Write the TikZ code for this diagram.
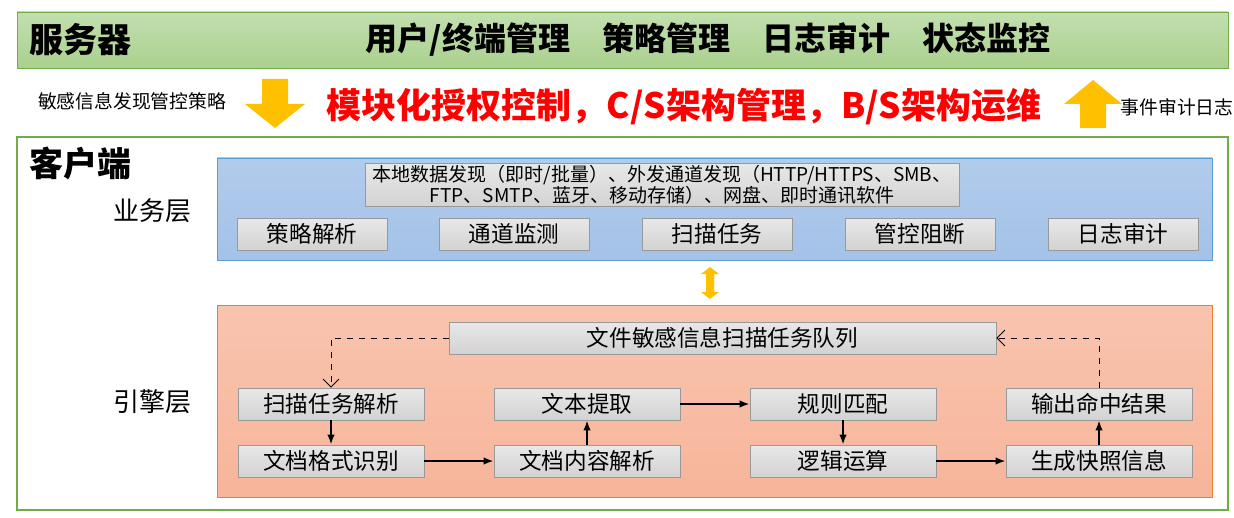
\documentclass[tikz,border=0pt]{standalone}
\usepackage{fontspec}
\setmainfont{Noto Sans CJK SC}
\usetikzlibrary{arrows.meta}
\definecolor{srvgreen}{HTML}{A9D18E}
\definecolor{srvline}{HTML}{70AD47}
\definecolor{bizblue}{HTML}{A4C2E8}
\definecolor{bizline}{HTML}{5B9BD5}
\definecolor{engorange}{HTML}{F7B59A}
\definecolor{engline}{HTML}{ED7D31}
\definecolor{arrowyellow}{HTML}{FFC000}
\tikzset{
	graybox/.style={draw=gray!80, top color=gray!18, bottom color=gray!35, minimum height=16pt, inner sep=1pt, font=\fontsize{11.3}{12}\selectfont},
	flow/.style={-{Latex[length=5pt]}, line width=0.9pt},
	back/.style={-{Straight Barb[length=4pt]}, dashed, thin}
}
\begin{document}
\begin{tikzpicture}[x=0.5pt, y=-0.5pt]
	\useasboundingbox (0,0) rectangle (1234,518);
	%server
	\node[draw=srvline, top color=srvgreen!70, bottom color=srvgreen, minimum width=605.5pt, minimum height=28pt] (server) at (622.5,40) {};
	\node[font=\fontsize{17}{19}\selectfont\bfseries] (srvname) at (80,40) {服务器};
	\node[font=\fontsize{16}{18}\selectfont\bfseries] (srvtasks) at (708,40) {用户/终端管理\quad 策略管理\quad 日志审计\quad 状态监控};
	%policy arrows
	\node[font=\fontsize{9.4}{10}\selectfont] (policy) at (132,101) {敏感信息发现管控策略};
	\fill[arrowyellow] (262,79) -- (288,79) -- (288,104) -- (305,104) -- (275,128) -- (245,104) -- (262,104) -- cycle;
	\node[font=\fontsize{17.5}{19}\selectfont\bfseries, text=red] (mode) at (684,107) {模块化授权控制，C/S架构管理，B/S架构运维};
	\fill[arrowyellow] (1080,128) -- (1106,128) -- (1106,104) -- (1122,104) -- (1093,80) -- (1064,104) -- (1080,104) -- cycle;
	\node[font=\fontsize{9.4}{10}\selectfont] (audit) at (1177,107) {事件审计日志};
	%client
	\draw[srvline, line width=0.8pt] (17,137) rectangle (1228,510);
	\node[font=\fontsize{17}{19}\selectfont\bfseries] (client) at (80,163) {客户端};
	%business layer
	\draw[bizline, top color=bizblue!85, bottom color=bizblue] (217,158) rectangle (1212,260);
	\node[font=\fontsize{13}{15}\selectfont] (bizname) at (152,211) {业务层};
	\node[graybox, minimum width=297pt, minimum height=18pt, align=center, font=\fontsize{9.5}{10.5}\selectfont] (channels) at (662,185)
	{本地数据发现（即时/批量）、外发通道发现（HTTP/HTTPS、SMB、\\FTP、SMTP、蓝牙、移动存储）、网盘、即时通讯软件};
	\foreach \x/\name/\txt in {312/parse/策略解析, 514/monitor/通道监测, 717/scan/扫描任务, 920/block/管控阻断, 1123/log/日志审计}
	\node[graybox, minimum width=75pt] (\name) at (\x,234) {\txt};
	%link
	\fill[arrowyellow] (706,274) -- (714,274) -- (714,292) -- (719,292) -- (710,299) -- (701,292) -- (706,292) -- cycle;
	\fill[arrowyellow] (706,292) -- (706,274) -- (701,274) -- (710,267) -- (719,274) -- (714,274) -- (714,292) -- cycle;
	%engine layer
	\draw[engline, top color=engorange!80, bottom color=engorange] (217,305) rectangle (1212,497);
	\node[font=\fontsize{13}{15}\selectfont] (engname) at (152,402) {引擎层};
	\node[graybox, minimum width=273.5pt] (queue) at (722.5,338) {文件敏感信息扫描任务队列};
	\foreach \x/\up/\upt/\down/\downt in {
		331/task/扫描任务解析/format/文档格式识别,
		587/text/文本提取/content/文档内容解析,
		843/rule/规则匹配/logic/逻辑运算,
		1099/output/输出命中结果/snap/生成快照信息}
	{
		\node[graybox, minimum width=93pt] (\up) at (\x,404) {\upt};
		\node[graybox, minimum width=93pt] (\down) at (\x,461) {\downt};
	}
	%flows
	\draw[flow] (task) -- (format);
	\draw[flow] (format) -- (content);
	\draw[flow] (content) -- (text);
	\draw[flow] (text) -- (rule);
	\draw[flow] (rule) -- (logic);
	\draw[flow] (logic) -- (snap);
	\draw[flow] (snap) -- (output);
	\draw[back] (queue.west) -| (task.north);
	\draw[back] (output.north) |- (queue.east);
\end{tikzpicture}
\end{document}
